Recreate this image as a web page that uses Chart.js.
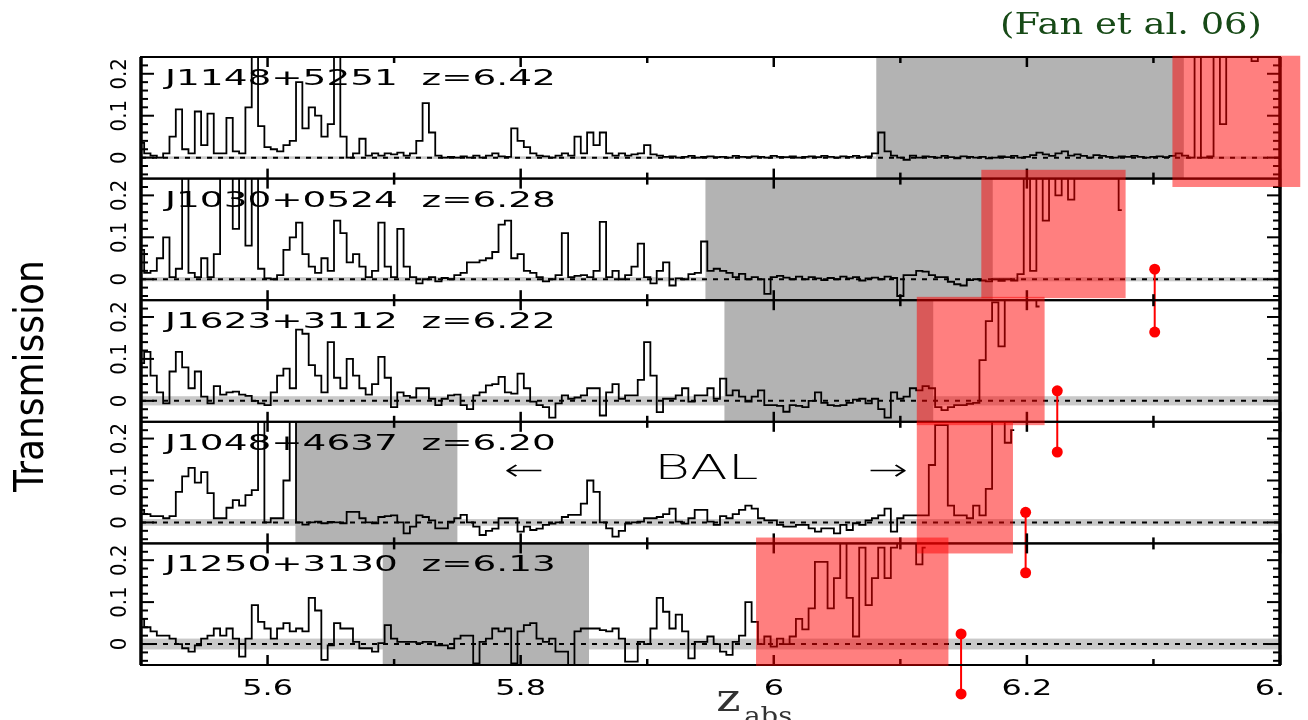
<!DOCTYPE html>
<html>
<head>
<meta charset="utf-8">
<script src="https://cdn.jsdelivr.net/npm/chart.js@4.4.1/dist/chart.umd.min.js"></script>
<style>
html,body{margin:0;padding:0;background:#fff;}
#wrap{width:1308px;height:720px;position:relative;overflow:hidden;}
canvas{display:block;}
</style>
</head>
<body>
<div id="wrap"><canvas id="c" width="1308" height="720"></canvas></div>
<script>
// ---------- DATA ----------
const zStart = 5.5;
const zStep = 0.005;
const quasarLabels = ['J1148+5251  z=6.42','J1030+0524  z=6.28','J1623+3112  z=6.22','J1048+4637  z=6.20','J1250+3130  z=6.13'];

const specJ1148 = [
0.035,0.01,0.005,0.0,0.01,0.05,0.115,0.02,0.01,0.11,
0.03,0.105,0.01,0.01,0.095,0.015,0.01,0.12,0.3,0.075,
0.025,0.02,0.015,0.03,0.04,0.18,0.07,0.12,0.1,0.05,
0.08,0.3,0.05,0.0,0.01,0.045,0.005,0.01,0.005,0.01,
0.008,0.012,0.005,0.01,0.04,0.13,0.06,0.005,0.0,0.002,
0.0,0.003,0.0,0.005,0.0,0.005,0.01,0.003,0.002,0.07,
0.04,0.025,0.01,0.005,0.003,0.0,0.005,0.01,0.005,0.05,
0.01,0.06,0.03,0.06,0.01,0.005,0.01,0.005,0.008,0.01,
0.03,0.008,0.005,0.002,0.003,0.0,0.002,0.004,0.0,0.002,
0.003,0.001,0.002,0.0,0.004,0.002,0.001,0.003,0.002,0.0,
0.004,0.002,0.001,0.003,0.0,0.002,0.003,0.001,0.004,0.002,
0.0,0.003,0.002,0.004,0.001,0.003,0.01,0.06,0.015,0.005,
0.0,-0.005,0.005,0.0,0.003,0.002,0.0,0.004,0.001,-0.002,
0.003,0.002,0.0,0.002,-0.002,0.0,0.003,0.001,0.004,0.0,
0.002,0.006,0.012,0.008,0.004,0.01,0.015,0.005,0.008,0.004,
0.0,0.006,0.004,0.002,0.0,0.003,0.002,0.004,0.002,0.0,
0.002,0.003,0.001,0.004,0.01,0.005,0.0,0.3,0.0,0.003,
0.3,0.08,0.3,0.3,0.3,0.3,0.23,0.3,0.3,0.3,0.3];

const specJ1030 = [
0.07,0.015,0.02,0.05,0.1,0.005,0.025,0.3,0.015,0.005,
0.05,0.005,0.06,0.3,0.3,0.12,0.3,0.08,0.3,0.025,
0.002,0.0,0.01,0.07,0.1,0.135,0.06,0.03,0.015,0.05,
0.02,0.14,0.11,0.04,0.06,0.03,0.005,0.02,0.135,0.03,
0.005,0.12,0.03,0.005,-0.01,0.0,0.005,-0.005,0.003,0.0,
0.01,0.015,0.04,0.04,0.045,0.05,0.065,0.13,0.14,0.05,
0.06,0.02,0.015,0.005,-0.005,0.0,0.01,0.11,0.005,0.008,
0.01,0.005,0.02,0.137,0.005,0.02,0.0,0.01,0.03,0.085,
0.005,-0.01,0.02,0.04,-0.015,0.002,0.0,0.012,0.015,0.09,
0.02,0.025,0.02,0.015,0.005,0.013,0.0,0.005,0.0,-0.035,
0.005,0.008,0.004,0.0,0.006,0.0,0.005,0.002,-0.002,0.003,
0.0,0.006,0.002,0.005,-0.003,0.002,0.004,0.0,0.006,0.003,
-0.04,0.01,0.01,0.02,0.018,0.01,0.005,0.005,-0.006,-0.012,
-0.015,-0.002,0.0,-0.003,-0.005,0.0,-0.004,0.0,-0.003,0.012,
0.3,0.02,0.3,0.14,0.3,0.2,0.3,0.19,0.3,0.3,
0.3,0.3,0.3,0.3,0.3,0.165];

const specJ1623 = [
0.09,0.117,0.06,0.02,-0.006,0.07,0.117,0.08,0.03,0.07,
0.01,-0.006,0.035,0.015,0.02,0.022,0.015,0.012,0.0,-0.006,
-0.01,0.02,0.06,0.077,0.03,0.17,0.16,0.085,0.06,0.02,
0.14,0.055,0.03,0.1,0.06,0.03,0.015,0.04,0.105,0.055,
-0.015,0.02,0.012,0.008,0.03,0.03,0.005,-0.01,0.005,0.013,
0.015,-0.01,-0.02,0.013,0.02,0.037,0.04,0.057,0.02,0.017,
0.065,0.03,-0.002,-0.01,-0.015,-0.04,-0.006,0.013,0.005,0.008,
0.013,0.03,0.03,-0.035,0.02,0.04,0.005,0.013,0.013,0.05,
0.14,0.06,-0.027,0.005,0.005,0.013,0.03,-0.002,0.013,0.013,
0.03,0.005,0.053,0.013,0.025,0.01,-0.002,0.01,0.025,-0.01,
-0.01,-0.012,-0.026,-0.01,-0.012,-0.015,0.0,0.02,-0.005,-0.01,
-0.012,-0.01,-0.005,0.003,0.005,-0.006,0.005,-0.02,-0.04,0.02,
0.005,0.01,0.03,0.025,0.035,0.03,-0.015,-0.022,-0.015,-0.01,
-0.01,-0.007,-0.005,0.097,0.19,0.235,0.13,0.3,0.3,0.3,
0.3,0.3,0.225];

const specJ1048 = [
0.03,0.02,0.015,0.015,0.01,0.015,0.073,0.11,0.13,0.095,
0.12,0.07,0.01,0.01,0.035,0.053,0.04,0.065,0.077,0.3,
0.0,0.01,0.01,0.1,0.3,0.0,-0.005,0.0,0.002,-0.002,
0.001,0.0,-0.002,0.025,0.025,0.01,0.0,-0.002,0.013,0.015,
0.017,0.0,-0.026,-0.01,0.017,0.013,0.005,-0.014,-0.014,0.002,
0.01,0.018,0.0,-0.01,-0.03,-0.02,-0.015,0.01,0.01,0.01,
-0.022,-0.01,-0.018,-0.015,-0.006,-0.003,0.0,0.013,0.018,0.018,
0.045,0.1,0.073,0.0,-0.014,-0.034,-0.02,-0.003,0.0,0.002,
0.01,0.01,0.013,0.02,0.033,0.002,-0.003,0.01,0.03,0.03,
0.002,-0.006,0.015,0.01,0.02,0.03,0.04,0.033,0.01,0.005,
0.005,-0.006,-0.01,-0.01,-0.006,-0.006,-0.014,-0.022,-0.014,-0.014,
-0.026,-0.006,-0.018,-0.002,-0.006,0.005,0.01,0.017,0.033,-0.022,
0.01,0.017,0.017,0.017,0.017,0.137,0.232,0.232,0.04,0.017,
0.017,0.01,0.04,0.017,0.08,0.3,0.3,0.19,0.22];

const specJ1250 = [
0.06,0.04,0.03,0.02,0.02,0.013,0.0,-0.01,-0.018,-0.003,
0.013,0.02,0.037,0.02,0.037,0.013,-0.03,0.013,0.093,0.053,
0.037,0.013,0.037,0.05,0.03,0.037,0.03,0.11,0.08,-0.038,
-0.003,0.05,0.037,0.037,0.005,-0.01,-0.01,-0.018,0.002,0.045,
0.013,0.005,0.005,0.005,0.002,0.005,0.005,-0.003,-0.003,-0.01,
0.013,0.02,0.02,-0.046,0.005,0.013,0.037,0.03,0.037,-0.046,
0.03,0.045,0.05,0.013,0.005,0.013,-0.018,-0.018,-0.05,0.03,
0.037,0.037,0.037,0.033,0.03,0.037,0.013,-0.042,-0.042,0.005,
0.0,0.037,0.11,0.077,0.037,0.07,0.03,-0.034,0.005,0.005,
0.018,0.0,-0.018,-0.026,0.005,0.02,0.1,0.053,0.0,0.018,
-0.006,0.013,0.0,0.018,0.06,0.035,0.085,0.196,0.196,0.085,
0.157,0.3,0.11,0.018,0.23,0.093,0.157,0.23,0.157,0.23,
0.3,0.3,0.3,0.19,0.23];

const grayRegions = [[6.081,6.324],[5.946,6.173],[5.961,6.126],[5.622,5.750],[5.691,5.854]];
const redBoxZ = [[6.315,6.416],[6.164,6.278],[6.113,6.214],[6.113,6.189],[5.986,6.138]];
const redBoxT = [[-0.070,0.243],[-0.045,0.261],[-0.058,0.248],[-0.074,0.240],[-0.052,0.254]];
const noiseSigma = [0.003,0.005,0.011,0.008,0.013];
const markerZ = [6.301,6.224,6.199,6.148];
const markerPanel = [1,2,3,4];
const markerTop = [0.024,0.024,0.024,0.024];
const markerBottom = [-0.126,-0.122,-0.120,-0.119];
const xMajorTicks = [5.6,5.8,6.0,6.2,6.4];
const xTickLabels = ['5.6','5.8','6','6.2','6.4'];
const xMinorTicks = [5.7,5.9,6.1,6.3];
const yMajorTicks = [0,0.1,0.2];
const yTickLabels = ['0','0.1','0.2'];
const yMinorTicks = [-0.04,-0.02,0.02,0.04,0.06,0.08,0.12,0.14,0.16,0.18,0.22];
const yMin = -0.05, yMax = 0.24;
const balLabel = {text:'BAL', z:5.9466, t:0.124};
const arrowLeft = {text:'\u2190', z:5.803, t:0.12};
const arrowRight = {text:'\u2192', z:6.090, t:0.12};
const labelPos = {z:5.519, t:0.187};
const zabsPos = 5.9545;

// ---------- CHART ----------
const spectra = [specJ1148, specJ1030, specJ1623, specJ1048, specJ1250];
const panelIds = ['p0','p1','p2','p3','p4'];
const FIG_RIGHT = 1286;

function toPoints(arr){ return arr.map((v,i)=>({x: +(zStart + i*zStep).toFixed(4), y: v})); }

const datasets = spectra.map((arr,k)=>({
  type:'line', data: toPoints(arr), xAxisID:'x', yAxisID: panelIds[k],
  borderColor:'#000', borderWidth:1.8, pointRadius:0, stepped:'middle',
  panelClip:true
}));
// marker stems (dots drawn by the plugin, since Chart.js skips points outside the chart area)
markerZ.forEach((z,j)=>{
  datasets.push({type:'line', data:[{x:z,y:markerTop[j]},{x:z,y:markerBottom[j]}],
    xAxisID:'x', yAxisID: panelIds[markerPanel[j]], borderColor:'#ff0000', borderWidth:2,
    pointRadius:0, clip:false, markerDots:true});
});

const scales = {
  x:{type:'linear', min:5.5, max:6.4, position:'bottom',
     ticks:{display:false}, grid:{display:false, drawTicks:false}, border:{display:false}}
};
panelIds.slice().reverse().forEach(id=>{
  scales[id] = {type:'linear', min:yMin, max:yMax, position:'left', stack:'panels', stackWeight:1, offset:false,
    ticks:{display:false}, grid:{display:false, drawTicks:false}, border:{display:false}};
});

function line(ctx,x1,y1,x2,y2){ ctx.beginPath(); ctx.moveTo(x1,y1); ctx.lineTo(x2,y2); ctx.stroke(); }
function stretched(ctx,text,x,y,font,sx,align,baseline){
  ctx.save(); ctx.font=font; ctx.translate(x,y); ctx.scale(sx,1);
  ctx.textAlign=align; ctx.textBaseline=baseline||'middle'; ctx.fillText(text,0,0); ctx.restore();
}

const figurePlugin = {
  id:'figure',
  beforeDatasetsDraw(chart){
    const ctx=chart.ctx, ca=chart.chartArea, xs=chart.scales.x;
    panelIds.forEach((id,k)=>{
      const ys=chart.scales[id];
      ctx.fillStyle='#c9c9c9';
      const b1=ys.getPixelForValue(noiseSigma[k]), b2=ys.getPixelForValue(-noiseSigma[k]);
      ctx.fillRect(ca.left,b1,ca.right-ca.left,b2-b1);
      const g=grayRegions[k];
      const gx1=xs.getPixelForValue(g[0]), gx2=xs.getPixelForValue(g[1]);
      ctx.fillStyle='#b3b3b3';
      ctx.fillRect(gx1,ys.top,gx2-gx1,ys.bottom-ys.top);
      ctx.save(); ctx.setLineDash([5,6]); ctx.strokeStyle='#000'; ctx.lineWidth=2;
      const y0=ys.getPixelForValue(0);
      line(ctx,ca.left,y0,ca.right,y0); ctx.restore();
    });
  },
  beforeDatasetDraw(chart,args){
    const ds=chart.data.datasets[args.index];
    if(ds.panelClip){
      const ctx=chart.ctx, ca=chart.chartArea, ys=chart.scales[ds.yAxisID];
      ctx.save(); ctx.beginPath(); ctx.rect(ca.left,ys.top,ca.right-ca.left,ys.bottom-ys.top); ctx.clip();
    }
  },
  afterDatasetDraw(chart,args){
    const ds=chart.data.datasets[args.index];
    if(ds.panelClip) chart.ctx.restore();
    if(ds.markerDots){
      const ctx=chart.ctx, meta=chart.getDatasetMeta(args.index);
      ctx.save(); ctx.fillStyle='#ff0000';
      meta.data.forEach(pt=>{ ctx.beginPath(); ctx.arc(pt.x,pt.y,5.5,0,Math.PI*2); ctx.fill(); });
      ctx.restore();
    }
  },
  afterDatasetsDraw(chart){
    const ctx=chart.ctx, ca=chart.chartArea, xs=chart.scales.x;
    ctx.save();
    ctx.strokeStyle='#000'; ctx.fillStyle='#000';
    panelIds.forEach((id,k)=>{
      const ys=chart.scales[id];
      ctx.lineWidth=2;
      ctx.strokeRect(ca.left,ys.top,ca.right-ca.left,ys.bottom-ys.top);
      ctx.lineWidth=2.5;
      xMajorTicks.forEach(z=>{const px=xs.getPixelForValue(z); line(ctx,px,ys.top,px,ys.top+10); line(ctx,px,ys.bottom,px,ys.bottom-10);});
      xMinorTicks.forEach(z=>{const px=xs.getPixelForValue(z); line(ctx,px,ys.top,px,ys.top+6); line(ctx,px,ys.bottom,px,ys.bottom-6);});
      ctx.lineWidth=2;
      yMajorTicks.forEach(v=>{const py=ys.getPixelForValue(v); line(ctx,ca.left,py,ca.left+13,py); line(ctx,ca.right,py,ca.right-13,py);});
      yMinorTicks.forEach(v=>{const py=ys.getPixelForValue(v); line(ctx,ca.left,py,ca.left+7,py); line(ctx,ca.right,py,ca.right-7,py);});
      ctx.font="22px 'Liberation Sans Narrow','DejaVu Sans Condensed',sans-serif";
      yMajorTicks.forEach((v,t)=>{
        const py=ys.getPixelForValue(v);
        ctx.save(); ctx.translate(ca.left-21,py); ctx.rotate(-Math.PI/2);
        ctx.textAlign='center'; ctx.textBaseline='middle'; ctx.fillText(yTickLabels[t],0,0); ctx.restore();
      });
      stretched(ctx,quasarLabels[k],xs.getPixelForValue(labelPos.z),ys.getPixelForValue(labelPos.t),"22px 'DejaVu Sans'",1.7,'left');
    });
    ctx.lineWidth=3.5;
    line(ctx,ca.left,ca.top,ca.left,ca.bottom);
    line(ctx,ca.right,ca.top,ca.right,ca.bottom);
    const y4=chart.scales[panelIds[3]];
    stretched(ctx,balLabel.text,xs.getPixelForValue(balLabel.z),y4.getPixelForValue(balLabel.t),"200 34px 'DejaVu Sans'",1.62,'center');
    stretched(ctx,arrowLeft.text,xs.getPixelForValue(arrowLeft.z),y4.getPixelForValue(arrowLeft.t),"200 30px 'DejaVu Sans'",1.6,'center');
    stretched(ctx,arrowRight.text,xs.getPixelForValue(arrowRight.z),y4.getPixelForValue(arrowRight.t),"200 30px 'DejaVu Sans'",1.6,'center');
    ctx.save(); ctx.beginPath(); ctx.rect(0,0,FIG_RIGHT,chart.height); ctx.clip();
    xMajorTicks.forEach((z,t)=>stretched(ctx,xTickLabels[t],xs.getPixelForValue(z),ca.bottom+24,"22px 'DejaVu Sans'",1.45,'center'));
    ctx.restore();
    ctx.save(); ctx.translate(33,376); ctx.rotate(-Math.PI/2);
    ctx.font="40px 'Liberation Sans Narrow','DejaVu Sans Condensed',sans-serif";
    ctx.textAlign='center'; ctx.textBaseline='middle'; ctx.fillText('Transmission',0,0); ctx.restore();
    ctx.fillStyle='#333';
    const zx=xs.getPixelForValue(zabsPos);
    stretched(ctx,'z',zx,711,"40px 'DejaVu Serif'",1.15,'left','alphabetic');
    stretched(ctx,'abs',zx+28,724,"25px 'DejaVu Serif'",1.1,'left','alphabetic');
    ctx.fillStyle='#174a17';
    stretched(ctx,'(Fan et al. 06)',1000,26,"30px 'DejaVu Serif'",1.23,'left');
    ctx.fillStyle='rgba(255,0,0,0.5)';
    panelIds.forEach((id,k)=>{
      const ys=chart.scales[id];
      const x1=xs.getPixelForValue(redBoxZ[k][0]), x2=xs.getPixelForValue(redBoxZ[k][1]);
      const yT=ys.getPixelForValue(redBoxT[k][1]), yB=ys.getPixelForValue(redBoxT[k][0]);
      ctx.fillRect(x1,yT,x2-x1,yB-yT);
    });
    ctx.restore();
  }
};

new Chart(document.getElementById('c'),{
  type:'line',
  data:{datasets},
  options:{
    responsive:false, animation:false, devicePixelRatio:1, events:[],
    layout:{padding:{left:141,right:28,top:57,bottom:55}},
    plugins:{legend:{display:false}, tooltip:{enabled:false}},
    scales
  },
  plugins:[figurePlugin]
});
</script>
</body>
</html>
